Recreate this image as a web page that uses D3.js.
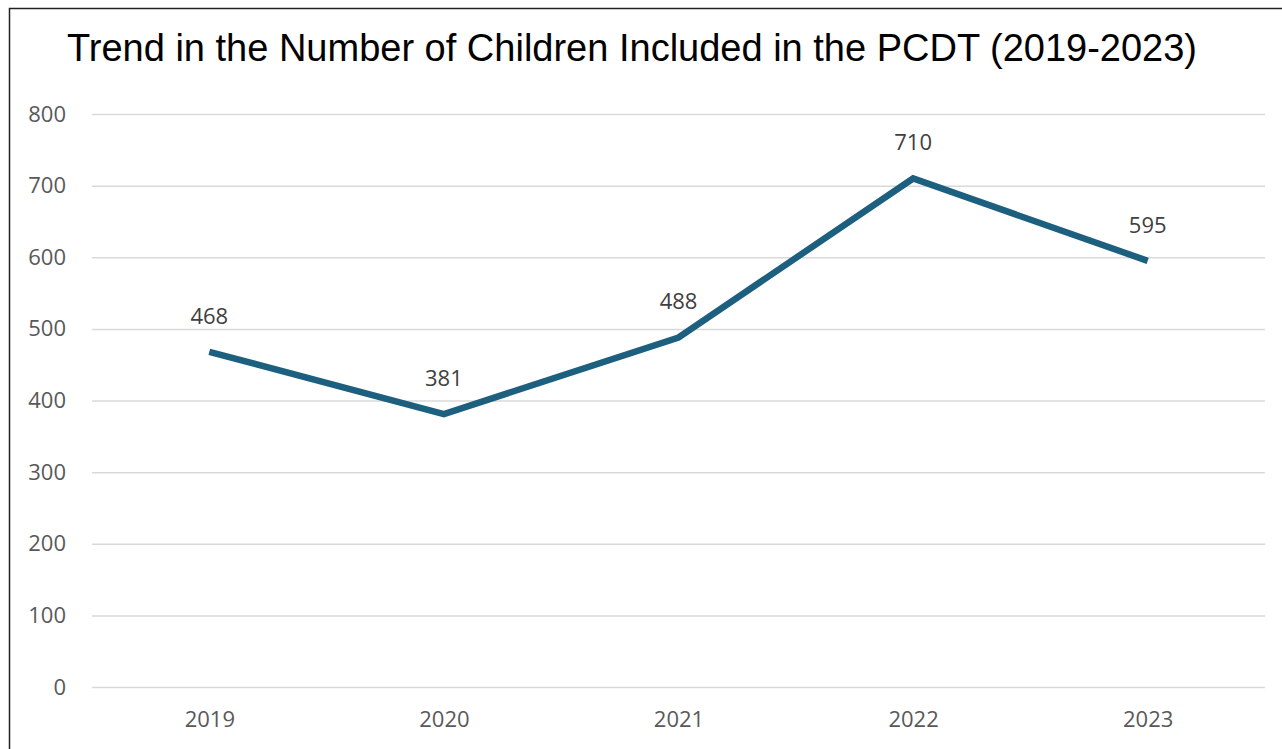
<!DOCTYPE html>
<html>
<head>
<meta charset="utf-8">
<script src="https://cdn.jsdelivr.net/npm/d3@7"></script>
<style>
  body { margin: 0; background: #fff; }
</style>
</head>
<body>
<svg id="chart" width="1282" height="749"></svg>
<script>
var years = ["2019", "2020", "2021", "2022", "2023"];
var children = [468, 381, 488, 710, 595];
var yTicks = [0, 100, 200, 300, 400, 500, 600, 700, 800];

var svg = d3.select("#chart");

// outer frame (runs off the right and bottom edges)
svg.append("rect")
  .attr("x", 9.5).attr("y", 8.5)
  .attr("width", 1300).attr("height", 800)
  .attr("fill", "none")
  .attr("stroke", "#222")
  .attr("stroke-width", 1.5);

svg.append("text")
  .attr("x", 632)
  .attr("y", 61)
  .attr("text-anchor", "middle")
  .style("font-family", "'Liberation Sans', Arial, sans-serif")
  .style("font-size", "38px")
  .attr("fill", "#000")
  .text("Trend in the Number of Children Included in the PCDT (2019-2023)");

var x = d3.scalePoint().domain(years).range([92, 1265]).padding(0.5);
var y = d3.scaleLinear().domain([0, 800]).range([687, 114]);

// gridlines + y labels
var yAxis = d3.axisLeft(y).tickValues(yTicks).tickSize(-(1265 - 92)).tickPadding(26);
var gy = svg.append("g").attr("transform", "translate(92,0)").call(yAxis);
gy.select(".domain").remove();
gy.selectAll(".tick line").attr("stroke", "#d9d9d9").attr("stroke-width", 1.5);
gy.selectAll(".tick text")
  .attr("fill", "#595959")
  .style("font-family", "'Open Sans', sans-serif")
  .style("font-size", "22px");

var xAxis = d3.axisBottom(x).tickSize(0).tickPadding(24);
var gx = svg.append("g").attr("transform", "translate(0,687)").call(xAxis);
gx.select(".domain").remove();
gx.selectAll(".tick text")
  .attr("fill", "#595959")
  .style("font-family", "'Open Sans', sans-serif")
  .style("font-size", "22px");

var line = d3.line()
  .x(function (d, i) { return x(years[i]); })
  .y(function (d) { return y(d); });

svg.append("path")
  .datum(children)
  .attr("fill", "none")
  .attr("stroke", "#1d5f7e")
  .attr("stroke-width", 6.5)
  .attr("stroke-linejoin", "miter")
  .attr("d", line);

svg.selectAll(".lbl")
  .data(children)
  .enter()
  .append("text")
  .attr("class", "lbl")
  .attr("x", function (d, i) { return x(years[i]); })
  .attr("y", function (d) { return y(d) - 28; })
  .attr("text-anchor", "middle")
  .attr("fill", "#404040")
  .style("font-family", "'Open Sans', sans-serif")
  .style("font-size", "22px")
  .text(function (d) { return d; });
</script>
</body>
</html>
